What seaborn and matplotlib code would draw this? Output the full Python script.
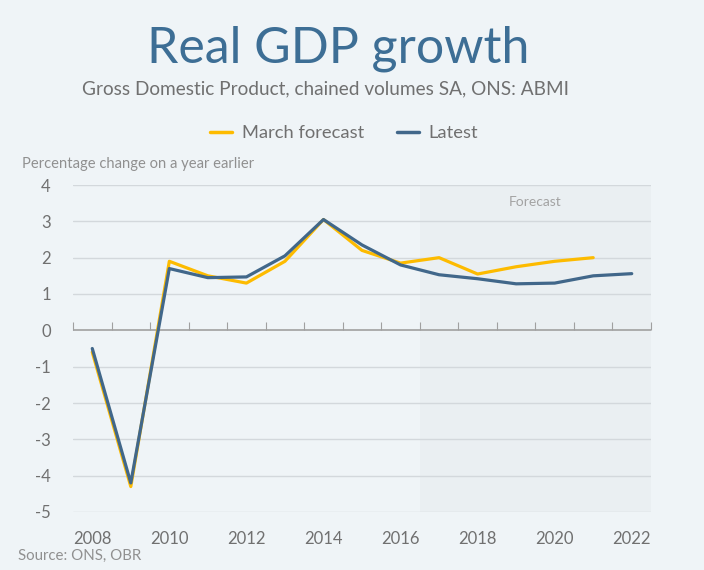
import numpy as np
import pandas as pd
import matplotlib.pyplot as plt
import seaborn as sns

# Data
years = list(range(2008, 2023))
march_forecast = [-0.6, -4.3, 1.9, 1.5, 1.3, 1.9, 3.05, 2.2, 1.85, 2.0, 1.55, 1.75, 1.9, 2.0, np.nan]
latest = [-0.5, -4.2, 1.7, 1.45, 1.47, 2.05, 3.05, 2.35, 1.8, 1.53, 1.42, 1.28, 1.3, 1.5, 1.56]
year_labels = [str(y) for y in range(2008, 2023, 2)]
forecast_start = 2016.5

bg = "#EFF4F7"
shade = "#EAEFF2"
yellow = "#FDBB00"
blue = "#41678A"
grey_text = "#707070"

df = pd.DataFrame({"Year": years, "March forecast": march_forecast, "Latest": latest})
long = df.melt(id_vars="Year", var_name="Series", value_name="Value").dropna()

sns.set_style("white")
plt.rcParams['font.family'] = ['Lato', 'DejaVu Sans']
plt.rcParams['axes.unicode_minus'] = False

fig = plt.figure(figsize=(7.04, 5.70), dpi=100, facecolor=bg)
ax = fig.add_axes([73 / 704, 1 - 512 / 570, (651 - 73) / 704, (512 - 185) / 570])
ax.set_facecolor(bg)

# Forecast shading
ax.axvspan(forecast_start, 2022.5, color=shade, zorder=0, lw=0)
ax.text(2019.5, 3.52, "Forecast", ha="center", va="center", color="#A3A3A3", fontsize=10)

# grid lines
for v in range(-5, 5):
    if v != 0:
        ax.axhline(v, color="#D3D8DC", lw=1, zorder=1)
ax.axhline(0, color="#A0A0A0", lw=1.2, zorder=2)

sns.lineplot(data=long, x="Year", y="Value", hue="Series",
             hue_order=["March forecast", "Latest"],
             palette={"March forecast": yellow, "Latest": blue},
             lw=2.3, ax=ax, zorder=3, legend=False)

ax.set_xlim(2007.5, 2022.5)
ax.set_ylim(-5, 4)
ax.set_xticks(range(2008, 2023, 2))
ax.set_xticklabels(year_labels)
ax.set_yticks(range(-5, 5))
ax.tick_params(axis="both", length=0, labelsize=12, colors=grey_text)
ax.tick_params(axis="x", pad=14)
ax.tick_params(axis="y", pad=16)
ax.set_xlabel("")
ax.set_ylabel("")
for s in ax.spines.values():
    s.set_visible(False)

# tick marks hanging from the zero line at category boundaries
sec = ax.secondary_xaxis(5 / 9)
sec.set_xticks(np.arange(2007.5, 2023, 1))
sec.tick_params(axis="x", direction="out", length=6, color="#A0A0A0", labelbottom=False, labeltop=False)
sec.spines["bottom"].set_visible(False)
sec.spines["top"].set_visible(False)

# Titles and notes
fig.text(338 / 704, 1 - 63 / 570, "Real GDP growth", ha="center", va="baseline",
         fontsize=36, color="#3D6E95", fontweight="normal")
fig.text(325 / 704, 1 - 89 / 570, "Gross Domestic Product, chained volumes SA, ONS: ABMI",
         ha="center", va="center", fontsize=13.7, color=grey_text)
fig.text(22 / 704, 1 - 164 / 570, "Percentage change on a year earlier",
         ha="left", va="center", fontsize=10.6, color="#909090")
fig.text(18 / 704, 1 - 556 / 570, "Source: ONS, OBR", ha="left", va="center",
         fontsize=10.8, color="#909090")

handles = [plt.Line2D([], [], color=yellow, lw=2.5), plt.Line2D([], [], color=blue, lw=2.5)]
fig.legend(handles, ["March forecast", "Latest"], loc="center", bbox_to_anchor=(344 / 704, 1 - 133 / 570),
           ncol=2, frameon=False, fontsize=13.2, handlelength=1.2, columnspacing=1.8,
           handletextpad=0.5, labelcolor=grey_text)

fig.savefig("out.png", dpi=100, facecolor=bg)
